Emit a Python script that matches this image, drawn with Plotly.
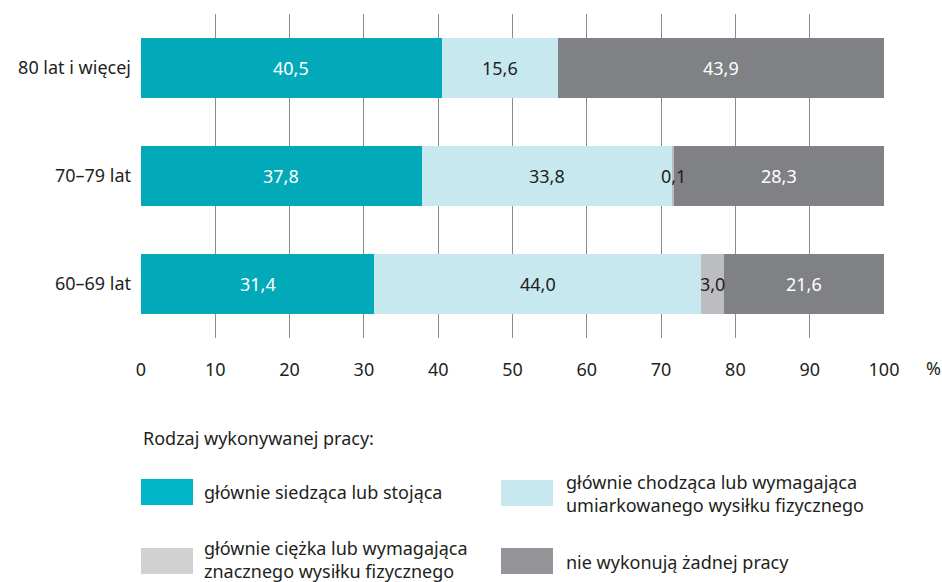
import plotly.graph_objects as go

# Age groups (bottom to top) and shares of work type, in %
age_groups = ["60–69 lat", "70–79 lat", "80 lat i więcej"]
series_names = [
    "głównie siedząca lub stojąca",
    "głównie chodząca lub wymagająca<br>umiarkowanego wysiłku fizycznego",
    "głównie ciężka lub wymagająca<br>znacznego wysiłku fizycznego",
    "nie wykonują żadnej pracy",
]
sitting = [31.4, 37.8, 40.5]
walking = [44.0, 33.8, 15.6]
heavy = [3.0, 0.1, 0.0]
no_work = [21.6, 28.3, 43.9]

x_ticks = [0, 10, 20, 30, 40, 50, 60, 70, 80, 90, 100]

colors = ["#02a9b9", "#c8e8ef", "#bcbdc0", "#808184"]
legend_colors = ["#00b5c8", "#c8e8ef", "#d0d1d3", "#939598"]
label_colors = ["white", "#231f20", "#231f20", "white"]
text_dark = "#231f20"
FONT = "Noto Sans"
FS = 18

series = [sitting, walking, heavy, no_work]

fig = go.Figure()
for name, vals, col in zip(series_names, series, colors):
    fig.add_trace(go.Bar(
        y=age_groups, x=vals, name=name, orientation="h",
        marker=dict(color=col, line=dict(width=0)),
        hoverinfo="x+name", showlegend=False,
    ))

# value labels centred in each segment
annotations = []
for i, cat in enumerate(age_groups):
    left = 0.0
    for vals, lc in zip(series, label_colors):
        v = vals[i]
        if v > 0:
            annotations.append(dict(
                x=left + v / 2, y=cat, xref="x", yref="y",
                text=f"{v:.1f}".replace(".", ","), showarrow=False,
                font=dict(family=FONT, size=FS, color=lc),
            ))
        left += v

M_T, M_B, H = 14, 244, 582
PLOT_H = H - M_T - M_B


def py(px):
    """pixel row -> paper y"""
    return (H - M_B - px) / PLOT_H


W, M_L, M_R = 942, 141, 58
PLOT_W = W - M_L - M_R


def pxx(px):
    """pixel column -> paper x"""
    return (px - M_L) / PLOT_W


# axis unit
annotations.append(dict(
    x=pxx(933), y=py(368), xref="paper", yref="paper", text="%",
    showarrow=False, font=dict(family=FONT, size=FS, color=text_dark),
    xanchor="center", yanchor="middle",
))

# legend title
annotations.append(dict(
    x=pxx(141), y=py(438), xref="paper", yref="paper",
    text="Rodzaj wykonywanej pracy:", showarrow=False,
    font=dict(family=FONT, size=FS, color=text_dark),
    xanchor="left", yanchor="middle",
))

shapes = []
legend_boxes = [
    (141, 479, 202, 492),
    (501, 480, 564, 493),
    (141, 548, 202, 559),
    (501, 548, 564, 562),
]
for (bx, by, tx, ty), name, col in zip(legend_boxes, series_names, legend_colors):
    shapes.append(dict(
        type="rect", xref="paper", yref="paper",
        x0=pxx(bx), x1=pxx(bx + 52), y0=py(by), y1=py(by + 26),
        fillcolor=col, line=dict(width=0),
    ))
    annotations.append(dict(
        x=pxx(tx), y=py(ty), xref="paper", yref="paper", text=name,
        showarrow=False, align="left", xanchor="left", yanchor="middle",
        font=dict(family=FONT, size=FS, color=text_dark),
    ))

fig.update_layout(
    barmode="stack",
    bargap=0.44,
    width=W, height=H,
    margin=dict(l=M_L, r=M_R, t=M_T, b=M_B, pad=0),
    paper_bgcolor="white", plot_bgcolor="white",
    font=dict(family=FONT, size=FS, color=text_dark),
    xaxis=dict(
        range=[0, 100], tickvals=x_ticks, ticktext=[str(t) for t in x_ticks],
        showgrid=True, gridcolor="#8c8c8c", gridwidth=1, zeroline=False,
        showline=False, ticks="", ticklabelstandoff=19,
        tickfont=dict(family=FONT, size=FS, color=text_dark),
        fixedrange=True,
    ),
    yaxis=dict(
        categoryorder="array", categoryarray=age_groups,
        showgrid=False, zeroline=False, showline=False, ticks="",
        ticklabelstandoff=9,
        tickfont=dict(family=FONT, size=FS, color=text_dark),
        fixedrange=True,
    ),
    annotations=annotations,
    shapes=shapes,
)

fig.write_html("out.html")
